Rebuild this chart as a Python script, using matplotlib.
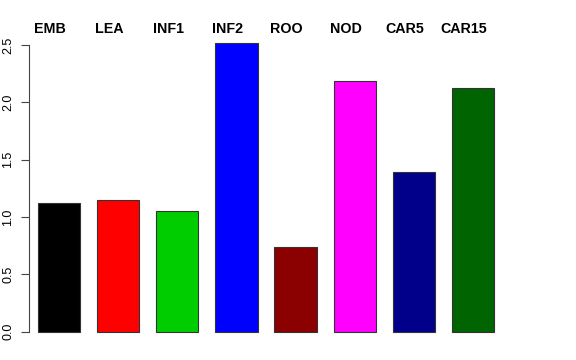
import matplotlib
matplotlib.use('Agg')
from matplotlib import pyplot as plt
import numpy as np

plt.rcParams['font.family'] = ['Liberation Sans', 'DejaVu Sans']

tissues = ['EMB', 'LEA', 'INF1', 'INF2', 'ROO', 'NOD', 'CAR5', 'CAR15']
values = [1.12, 1.15, 1.05, 2.52, 0.735, 2.185, 1.39, 2.125]
colors = ['black', 'red', '#00CD00', 'blue', '#8B0000', 'magenta', '#00008B', '#006400']

left_px, right_px = 29, 530
fig = plt.figure(figsize=(5.76, 3.6), dpi=100)
ax = fig.add_axes([left_px / 576, 0.0472, (right_px - left_px) / 576, 0.8597])

x = 0.4 + 1.4 * np.arange(len(tissues)) + 0.5
ax.bar(x, values, width=1.0, color=colors, edgecolor='#333333', linewidth=0.8)

# first bar starts at ~38px, y axis at ~29px
ppu = 42.22
x0 = 0.4 - (38 - left_px) / ppu
ax.set_xlim(x0, x0 + (right_px - left_px) / ppu)
ax.set_ylim(-0.1, 2.6)

# labels sit a bit left of the bar centres in the original
for xi, name in zip(x, tissues):
    ax.text(xi - 9 / ppu, 2.64, name, ha='center', va='center', fontsize=10.3,
            fontweight='bold', clip_on=False)

for s in ['top', 'right', 'bottom']:
    ax.spines[s].set_visible(False)
ax.spines['left'].set_bounds(0, 2.5)
ax.spines['left'].set_color('#444444')
ax.set_xticks([])
ax.set_yticks([0, 0.5, 1.0, 1.5, 2.0, 2.5])
ax.set_yticklabels(['0.0', '0.5', '1.0', '1.5', '2.0', '2.5'], rotation=90,
                   va='center', fontsize=9)
ax.tick_params(axis='y', length=5.5, pad=5, color='#444444')
ax.patch.set_visible(False)

plt.savefig('out.png', dpi=100)
